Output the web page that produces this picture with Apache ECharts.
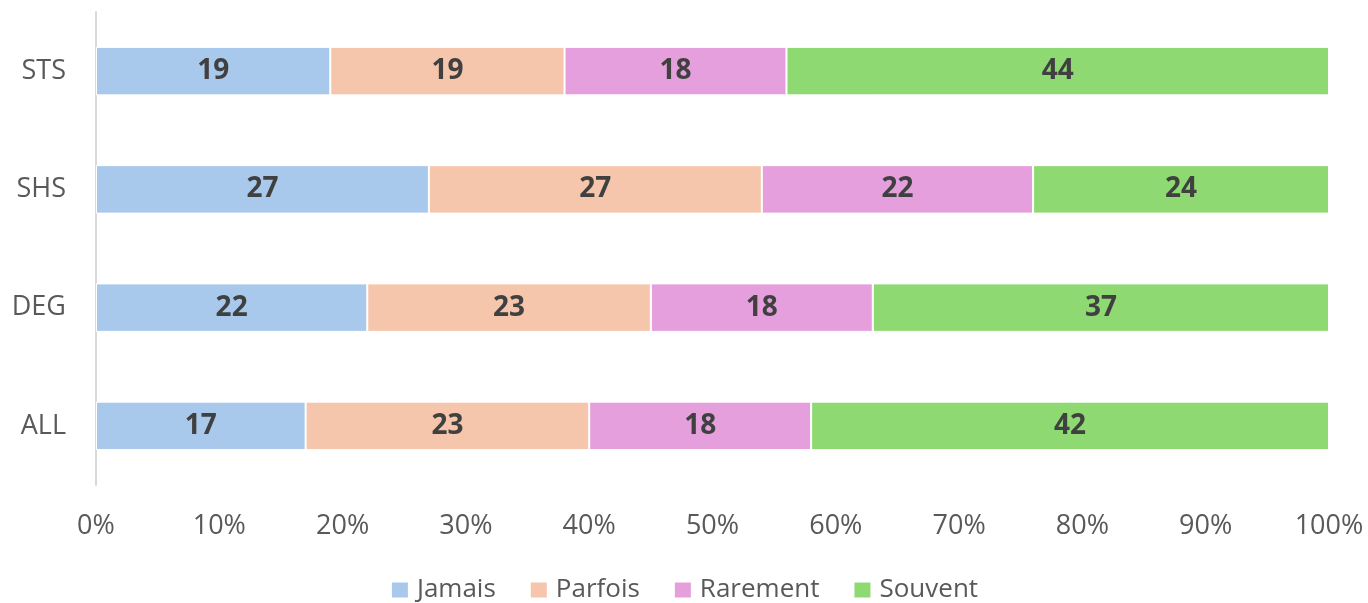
<!DOCTYPE html>
<html lang="fr">
<head>
    <meta charset="UTF-8">
    <title>Chart</title>
    <script src="https://cdn.jsdelivr.net/npm/echarts@6/dist/echarts.min.js"></script>
    <style>
        html, body { margin: 0; padding: 0; background: #fff; }
    </style>
</head>
<body>
    <div id="main" style="width: 1368px; height: 603px;"></div>

    <script>
        // donnees
        var categories = ['ALL', 'DEG', 'SHS', 'STS'];
        var jamais = [17, 22, 27, 19];
        var parfois = [23, 23, 27, 19];
        var rarement = [18, 18, 22, 18];
        var souvent = [42, 37, 24, 44];
        var xTicks = [0, 10, 20, 30, 40, 50, 60, 70, 80, 90, 100];

        var font = '"Open Sans", "Noto Sans", sans-serif';

        function makeSeries(name, data, color) {
            return {
                name: name,
                type: 'bar',
                stack: 'total',
                barWidth: '41%',
                data: data,
                itemStyle: { color: color, borderColor: '#fff', borderWidth: 1 },
                label: {
                    show: true,
                    position: 'inside',
                    fontFamily: font,
                    fontWeight: 'bold',
                    fontSize: 28,
                    color: '#404040'
                }
            };
        }

        var mycharts = echarts.init(document.getElementById('main'));

        var option = {
            animation: false,
            grid: { left: 96, right: 39, top: 12, bottom: 118, containLabel: false },
            legend: {
                top: 577,
                left: 'center',
                padding: 0,
                itemWidth: 18,
                itemHeight: 17,
                itemGap: 33,
                icon: 'rect',
                textStyle: { fontFamily: font, fontSize: 26, lineHeight: 26, color: '#595959', padding: [0, 0, 0, 3] },
                data: ['Jamais', 'Parfois', 'Rarement', 'Souvent']
            },
            xAxis: {
                type: 'value',
                min: xTicks[0],
                max: xTicks[xTicks.length - 1],
                interval: 10,
                axisLine: { show: false },
                axisTick: { show: false },
                splitLine: { show: false },
                axisLabel: {
                    formatter: '{value}%',
                    fontFamily: font,
                    fontSize: 27,
                    color: '#595959',
                    margin: 28
                }
            },
            yAxis: {
                type: 'category',
                data: categories,
                axisLine: { show: true, lineStyle: { color: '#d9d9d9', width: 2 } },
                axisTick: { show: false },
                axisLabel: {
                    fontFamily: font,
                    fontSize: 27,
                    color: '#595959',
                    margin: 30
                }
            },
            series: [
                makeSeries('Jamais', jamais, '#a9c9ec'),
                makeSeries('Parfois', parfois, '#f5c6ab'),
                makeSeries('Rarement', rarement, '#e49fdc'),
                makeSeries('Souvent', souvent, '#8fd973')
            ]
        };

        mycharts.setOption(option);
    </script>
</body>
</html>
